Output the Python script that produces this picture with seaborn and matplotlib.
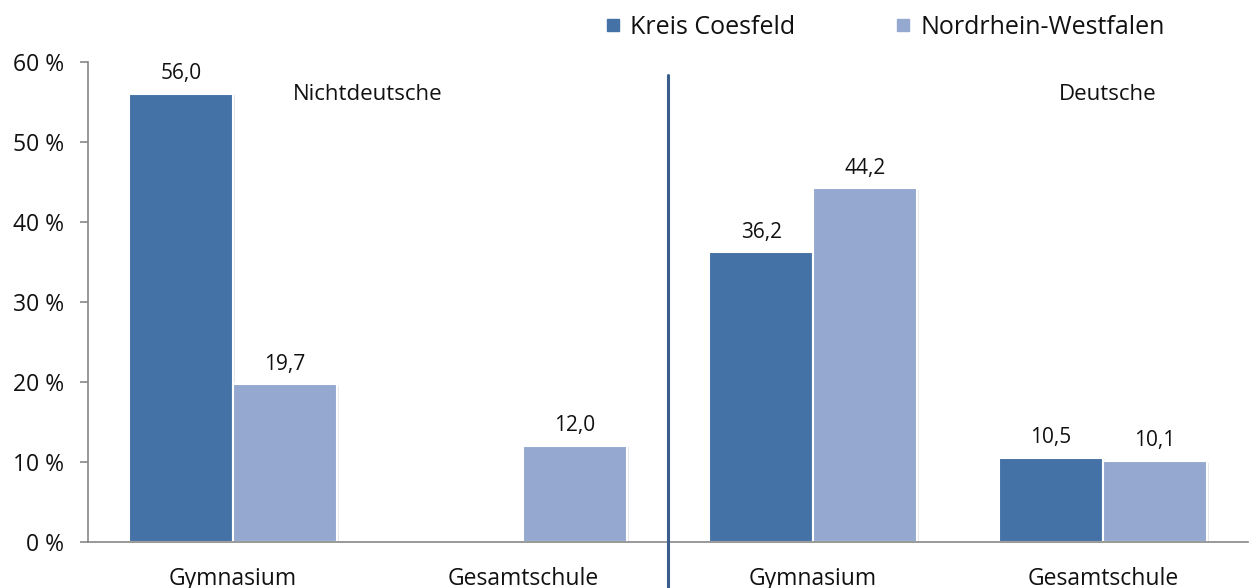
import numpy as np
import pandas as pd
import seaborn as sns
import matplotlib.pyplot as plt
from matplotlib.lines import Line2D
from matplotlib import patheffects

# data
gruppen = ["Nichtdeutsche", "Nichtdeutsche", "Deutsche", "Deutsche"]
schulformen = ["Gymnasium", "Gesamtschule", "Gymnasium", "Gesamtschule"]
kreis_coesfeld = [56.0, np.nan, 36.2, 10.5]
nrw = [19.7, 12.0, 44.2, 10.1]
regionen = ["Kreis Coesfeld", "Nordrhein-Westfalen"]
y_ticks = [0, 10, 20, 30, 40, 50, 60]

farben = ["#4472A6", "#95A9D0"]

keys = [g + "|" + s for g, s in zip(gruppen, schulformen)]
df = pd.DataFrame({
    "key": keys * 2,
    "region": [regionen[0]] * 4 + [regionen[1]] * 4,
    "wert": kreis_coesfeld + nrw,
})

sns.set_style("white")
plt.rcParams["font.family"] = ["Open Sans", "DejaVu Sans"]

fig = plt.figure(figsize=(12.5, 5.88), dpi=100)
ax = fig.add_axes([88 / 1250, 46 / 588, 1160 / 1250, 480 / 588])

sns.barplot(data=df, x="key", y="wert", hue="region", order=keys, hue_order=regionen,
            palette=farben, saturation=1, width=0.715, edgecolor="white", linewidth=1.5,
            legend=False, ax=ax)

# faint shadow on bars
for p in ax.patches:
    p.set_path_effects([patheffects.SimplePatchShadow(offset=(1.5, -1), alpha=0.12),
                        patheffects.Normal()])

# value labels
for cont in ax.containers:
    labels = []
    for bar in cont:
        h = bar.get_height()
        labels.append("" if (np.isnan(h) or h == 0) else ("%.1f" % h).replace(".", ","))
    ax.bar_label(cont, labels=labels, padding=7, fontsize=15, color="#111111")

# axes
ax.set_xlim(-0.5, 3.5)
ax.set_ylim(0, 60)
ax.set_yticks(y_ticks)
ax.set_yticklabels(["%d %%" % t for t in y_ticks])
ax.set_xticks(range(4))
ax.set_xticklabels(schulformen)
ax.set_xticks([-0.5, 0.5, 1.5, 2.5, 3.5], minor=True)
ax.tick_params(axis="x", which="major", length=0, pad=18, labelsize=16.5, labelcolor="#111111")
ax.tick_params(axis="x", which="minor", length=8, width=1.2, color="#888888", direction="out")
ax.tick_params(axis="y", length=6, width=1.2, color="#888888", pad=11, labelsize=16.5,
               labelcolor="#111111", left=True)
ax.set_xlabel("")
ax.set_ylabel("")
for s in ["top", "right"]:
    ax.spines[s].set_visible(False)
for s in ["left", "bottom"]:
    ax.spines[s].set_color("#888888")
    ax.spines[s].set_linewidth(1.2)

# divider between groups
ax.axvline(1.5, ymin=-0.2, ymax=(542 - 75) / 480, color="#3B5D8C", linewidth=2.2, clip_on=False, zorder=5)

# group labels
ax.text(0.241, 0.933, gruppen[0], transform=ax.transAxes, ha="center", va="center",
        fontsize=16, color="#111111")
ax.text(0.879, 0.933, gruppen[2], transform=ax.transAxes, ha="center", va="center",
        fontsize=16, color="#111111")

# legend
handles = [Line2D([0], [0], marker="s", linestyle="none", markersize=9, color=c) for c in farben]
fig.legend(handles, regionen, loc="upper left", bbox_to_anchor=(590 / 1250, 1.0), ncol=2,
           frameon=False, fontsize=18, handlelength=0.6, handletextpad=0.4, columnspacing=4.0,
           borderaxespad=0.2, labelcolor="#111111")

fig.savefig("out.png", dpi=100)
